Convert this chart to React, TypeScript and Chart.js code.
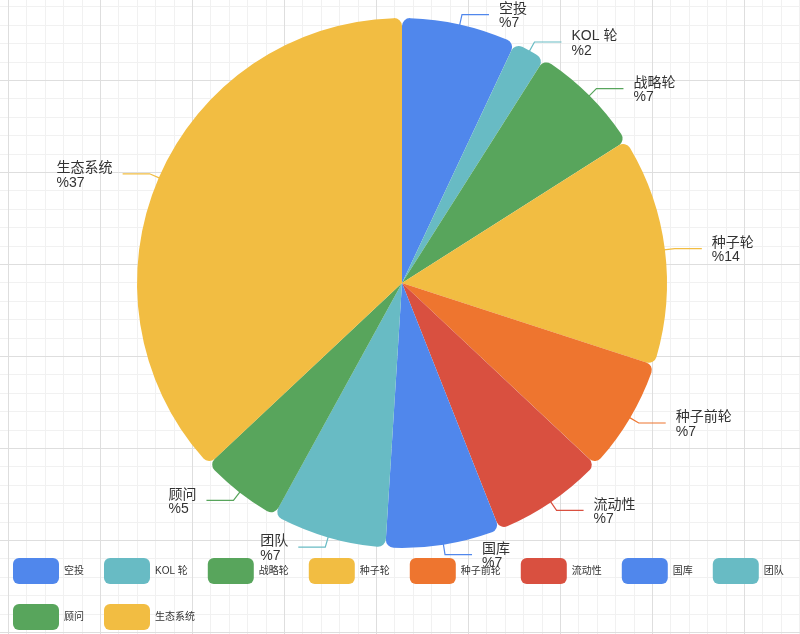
import React, { useRef, useEffect } from 'react';
import Chart from 'chart.js/auto';

const labels = ['空投', 'KOL 轮', '战略轮', '种子轮', '种子前轮', '流动性', '国库', '团队', '顾问', '生态系统'];
const shares = [7, 2, 7, 14, 7, 7, 7, 7, 5, 37];
const sliceColors = [
  '#5087ec', '#68bbc4', '#58a55c', '#f2bd42', '#ee752f',
  '#d95040', '#5087ec', '#68bbc4', '#58a55c', '#f2bd42',
];

const FONT = '"Liberation Sans", "Noto Sans CJK SC", sans-serif';

// graph-paper background behind everything
const gridPlugin = {
  id: 'paperGrid',
  beforeDraw(chart: any) {
    const { ctx, width, height } = chart;
    const major = 92;
    const minor = major / 5;
    ctx.save();
    ctx.fillStyle = '#fff';
    ctx.fillRect(0, 0, width, height);
    ctx.lineWidth = 1;
    const lines = (step: number, color: string) => {
      ctx.strokeStyle = color;
      ctx.beginPath();
      for (let x = 8 - step * 10; x < width; x += step) {
        if (x < 0) continue;
        const px = Math.round(x) + 0.5;
        ctx.moveTo(px, 0);
        ctx.lineTo(px, height);
      }
      for (let y = 80 - step * 10; y < height; y += step) {
        if (y < 0) continue;
        const py = Math.round(y) + 0.5;
        ctx.moveTo(0, py);
        ctx.lineTo(width, py);
      }
      ctx.stroke();
    };
    lines(minor, '#f1f1f1');
    lines(major, '#dedede');
    ctx.restore();
  },
};

// outside labels with leader lines
const sliceLabelPlugin = {
  id: 'sliceLabels',
  afterDatasetsDraw(chart: any) {
    const { ctx } = chart;
    const meta = chart.getDatasetMeta(0);
    const ds = chart.data.datasets[0];
    ctx.save();
    ctx.font = `14px ${FONT}`;
    ctx.textBaseline = 'middle';
    ctx.textAlign = 'left';
    meta.data.forEach((arc: any, i: number) => {
      const { x, y, startAngle, endAngle, outerRadius } = arc.getProps(
        ['x', 'y', 'startAngle', 'endAngle', 'outerRadius'], true);
      const mid = (startAngle + endAngle) / 2;
      const cos = Math.cos(mid);
      const sin = Math.sin(mid);
      const x0 = x + cos * (outerRadius - 1);
      const y0 = y + sin * (outerRadius - 1);
      const x1 = x + cos * (outerRadius + 10);
      const y1 = y + sin * (outerRadius + 10);
      const right = cos >= 0;
      const x2 = x1 + (right ? 27 : -27);
      ctx.strokeStyle = ds.backgroundColor[i];
      ctx.lineWidth = 1.2;
      ctx.beginPath();
      ctx.moveTo(x0, y0);
      ctx.lineTo(x1, y1);
      ctx.lineTo(x2, y1);
      ctx.stroke();
      const texts = [String(chart.data.labels[i]), '%' + ds.data[i]];
      const w = Math.max(...texts.map((t) => ctx.measureText(t).width));
      const tx = right ? x2 + 10 : x2 - 10 - w;
      ctx.fillStyle = '#333';
      ctx.fillText(texts[0], tx, y1 - 5.5);
      ctx.fillText(texts[1], tx, y1 + 9);
    });
    ctx.restore();
  },
};

// push the legend rows to the left edge like the original
const legendPlacePlugin = {
  id: 'legendPlace',
  afterLayout(chart: any) {
    const lg = chart.legend;
    if (!lg) return;
    lg.left = -7;
    lg.right = 810;
    lg.top = 538;
  },
};

const App: React.FC = () => {
  const canvasRef = useRef<HTMLCanvasElement>(null);

  useEffect(() => {
    document.body.style.margin = '0';
    if (!canvasRef.current) return;
    const baseLabels = (Chart as any).overrides.doughnut.plugins.legend.labels.generateLabels;
    const chart = new Chart(canvasRef.current, {
      type: 'pie',
      data: {
        labels,
        datasets: [{
          data: shares,
          backgroundColor: sliceColors,
          borderWidth: 0,
          borderRadius: 8,
          radius: 265,
          hoverOffset: 0,
          clip: false,
        } as any],
      },
      options: {
        animation: false,
        responsive: true,
        maintainAspectRatio: false,
        layout: { padding: { top: 34, left: 4 } },
        plugins: {
          legend: {
            position: 'bottom',
            align: 'start',
            labels: {
              boxWidth: 46,
              boxHeight: 26,
              padding: 20,
              useBorderRadius: true,
              borderRadius: 6,
              color: '#333',
              font: { size: 10, family: FONT },
              generateLabels: (c: any) =>
                baseLabels(c).map((item: any) => ({ ...item, lineWidth: 0 })),
            },
          },
          tooltip: { enabled: false },
        },
      } as any,
      plugins: [gridPlugin, sliceLabelPlugin, legendPlacePlugin],
    });
    return () => chart.destroy();
  }, []);

  return (
    <div style={{ width: 800, height: 634, position: 'relative' }}>
      <canvas ref={canvasRef} />
    </div>
  );
};

export default App;
